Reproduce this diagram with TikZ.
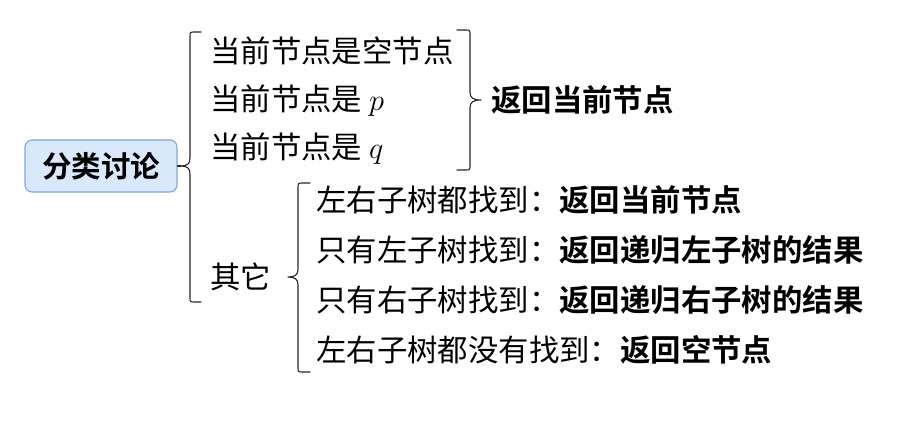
\RequirePackage{fix-cm}
\documentclass[tikz,border=0pt]{standalone}
\usepackage{fontspec}
\setmainfont{Noto Sans CJK SC}[BoldFont={Noto Sans CJK SC Bold}]
\definecolor{rootfill}{HTML}{DAE8FC}
\definecolor{rootdraw}{HTML}{7EA6E0}
\begin{document}
\begin{tikzpicture}[x=1pt,y=-1pt,
  txt/.style={inner sep=0pt,anchor=base west,font=\fontsize{30.4}{36}\selectfont},
  rootbox/.style={draw=rootdraw,fill=rootfill,line width=1.1pt,rounded corners=7pt,
    minimum width=152pt,minimum height=52pt,inner sep=0pt,
    font=\fontsize{29.5}{36}\selectfont\bfseries},
  br/.style={draw=black!85,line width=1.1pt,line cap=round,line join=round}]
\useasboundingbox (0,0) rectangle (904,428);
\node[rootbox] (root) at (101,166) {分类讨论};
% brace 1
\coordinate (b1tip) at (181,166);
\draw[br] (201,32) -- (195,32) .. controls (190,32) .. (190,37) -- (190,158)
  .. controls (190,164) and (187,166) .. (b1tip)
  .. controls (187,166) and (190,168) .. (190,174) -- (190,297)
  .. controls (190,302) .. (195,302) -- (201,302);
\draw[br] (root.east) -- (b1tip);
% group 1
\node[txt] (a1) at (210,62.5) {当前节点是空节点};
\node[txt] (a2) at (210,110.5) {当前节点是 $p$};
\node[txt] (a3) at (210,158.5) {当前节点是 $q$};
\coordinate (b2tip) at (481,100);
\draw[br] (457,30) -- (465,30) .. controls (470,30) .. (470,35) -- (470,92)
  .. controls (470,98) and (473,100) .. (b2tip)
  .. controls (473,100) and (470,102) .. (470,108) -- (470,165)
  .. controls (470,170) .. (465,170) -- (457,170);
\node[txt] (r1) at (491,111.5) {\bfseries 返回当前节点};
% group 2
\node[txt] (other) at (210,288.5) {其它};
\coordinate (b3tip) at (288,277);
\draw[br] (310,183) -- (303,183) .. controls (298,183) .. (298,188) -- (298,269)
  .. controls (298,275) and (295,277) .. (b3tip)
  .. controls (295,277) and (298,279) .. (298,285) -- (298,367)
  .. controls (298,372) .. (303,372) -- (310,372);
\node[txt] (c1) at (316,211.5) {左右子树都找到：\textbf{返回当前节点}};
\node[txt] (c2) at (316,261.5) {只有左子树找到：\textbf{返回递归左子树的结果}};
\node[txt] (c3) at (316,311.5) {只有右子树找到：\textbf{返回递归右子树的结果}};
\node[txt] (c4) at (316,361.5) {左右子树都没有找到：\textbf{返回空节点}};
\end{tikzpicture}
\end{document}
